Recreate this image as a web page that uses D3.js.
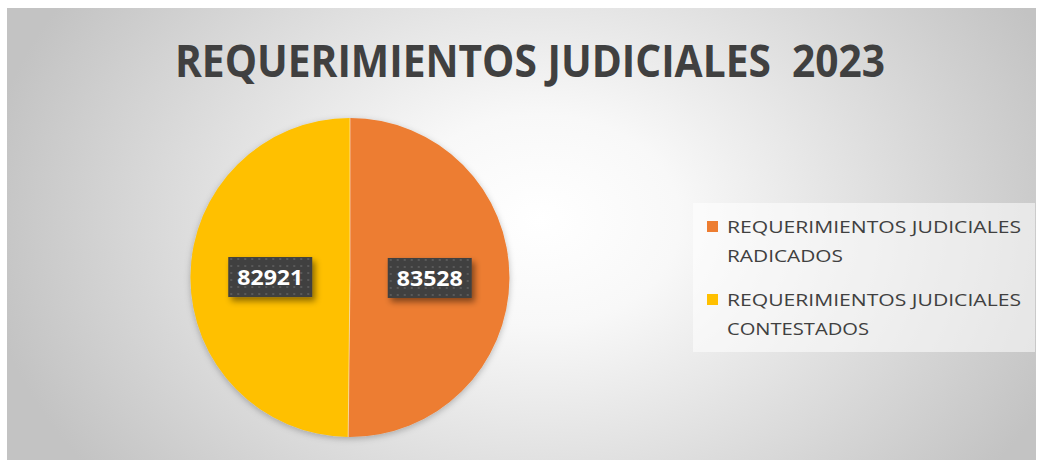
<!DOCTYPE html>
<html><head><meta charset="utf-8">
<script src="https://cdn.jsdelivr.net/npm/d3@7"></script>
<style>html,body{margin:0;padding:0;background:#fff;}svg{display:block;}</style>
</head><body>
<script>
const title = "REQUERIMIENTOS JUDICIALES  2023";
const categories = ["REQUERIMIENTOS JUDICIALES RADICADOS", "REQUERIMIENTOS JUDICIALES CONTESTADOS"];
const legendLines = [["REQUERIMIENTOS JUDICIALES", "RADICADOS"], ["REQUERIMIENTOS JUDICIALES", "CONTESTADOS"]];
const values = [83528, 82921];
const colors = ["#ED7D31", "#FFC000"];

const W = 1040, H = 462;
const svg = d3.select("body").append("svg").attr("width", W).attr("height", H);
const defs = svg.append("defs");

const rg = defs.append("radialGradient").attr("id", "bg")
  .attr("gradientUnits", "userSpaceOnUse")
  .attr("cx", 540).attr("cy", 220).attr("r", 560)
  .attr("gradientTransform", "translate(540,220) scale(1,0.75) translate(-540,-220)");
rg.append("stop").attr("offset", "0").attr("stop-color", "#ffffff");
rg.append("stop").attr("offset", "0.25").attr("stop-color", "#f8f8f8");
rg.append("stop").attr("offset", "1").attr("stop-color", "#c3c3c3");

const pat = defs.append("pattern").attr("id", "dots").attr("patternUnits", "userSpaceOnUse")
  .attr("width", 7).attr("height", 7);
pat.append("rect").attr("width", 7).attr("height", 7).attr("fill", "#404040");
pat.append("rect").attr("x", 2).attr("y", 2).attr("width", 2).attr("height", 2).attr("fill", "#5a5a5a");

const sh = defs.append("filter").attr("id", "shadow").attr("x", "-30%").attr("y", "-30%").attr("width", "160%").attr("height", "170%");
sh.append("feDropShadow").attr("dx", 3).attr("dy", 4).attr("stdDeviation", 3).attr("flood-color", "#000").attr("flood-opacity", 0.45);

const psh = defs.append("filter").attr("id", "pshadow").attr("x", "-20%").attr("y", "-20%").attr("width", "140%").attr("height", "140%");
psh.append("feDropShadow").attr("dx", 0).attr("dy", 2).attr("stdDeviation", 3).attr("flood-color", "#000").attr("flood-opacity", 0.25);

svg.append("rect").attr("x", 7).attr("y", 8).attr("width", 1029).attr("height", 452).attr("fill", "url(#bg)");

svg.append("text").attr("x", 530).attr("y", 77).attr("text-anchor", "middle")
  .attr("font-family", "'Open Sans', sans-serif").attr("font-weight", "bold").attr("font-size", 45)
  .attr("fill", "#404040").attr("textLength", 710).attr("lengthAdjust", "spacingAndGlyphs")
  .style("white-space", "pre").text(title);

const cx = 350, cy = 277.5, R = 159.5;
const pie = d3.pie().sort(null).value(d => d);
const arcs = pie(values);
const arc = d3.arc().innerRadius(0).outerRadius(R);
const g = svg.append("g").attr("transform", `translate(${cx},${cy})`);
g.append("g").attr("filter", "url(#pshadow)").selectAll("path").data(arcs).join("path")
  .attr("d", arc).attr("fill", (d, i) => colors[i]);
g.selectAll("line.sep").data(arcs).join("line").attr("class", "sep")
  .attr("x1", 0).attr("y1", 0)
  .attr("x2", d => R * Math.sin(d.startAngle)).attr("y2", d => -R * Math.cos(d.startAngle))
  .attr("stroke", "#ffffff").attr("stroke-opacity", 0.5).attr("stroke-width", 1);

const labelArc = d3.arc().innerRadius(R * 0.5).outerRadius(R * 0.5);
const lbl = g.selectAll("g.lbl").data(arcs).join("g").attr("class", "lbl")
  .attr("transform", d => { const c = labelArc.centroid(d); return `translate(${c[0]},${c[1]})`; });
lbl.append("rect").attr("x", -42).attr("y", -20).attr("width", 84).attr("height", 40)
  .attr("fill", "url(#dots)").attr("filter", "url(#shadow)");
lbl.append("text").attr("text-anchor", "middle").attr("y", 8)
  .attr("font-family", "'Open Sans', sans-serif").attr("font-weight", "bold").attr("font-size", 21)
  .attr("fill", "#ffffff").attr("textLength", 66).attr("lengthAdjust", "spacingAndGlyphs")
  .text(d => d.data);

const lg = svg.append("g");
lg.append("rect").attr("x", 693).attr("y", 203).attr("width", 342).attr("height", 149)
  .attr("fill", "#ffffff").attr("fill-opacity", 0.55);
const items = lg.selectAll("g.it").data(categories).join("g").attr("class", "it")
  .attr("transform", (d, i) => `translate(0,${i * 73})`);
items.append("rect").attr("x", 707).attr("y", 221).attr("width", 11).attr("height", 11)
  .attr("fill", (d, i) => colors[i]);
items.each(function(d, i) {
  const it = d3.select(this);
  legendLines[i].forEach((ln, j) => {
    const t = it.append("text").attr("x", 727).attr("y", 233 + j * 29)
      .attr("font-family", "'Open Sans', sans-serif").attr("font-size", 17)
      .attr("fill", "#404040").text(ln);
    if (j === 0) t.attr("textLength", 294).attr("lengthAdjust", "spacingAndGlyphs");
    else t.attr("textLength", i === 0 ? 116 : 142).attr("lengthAdjust", "spacingAndGlyphs");
  });
});
</script>
</body></html>
